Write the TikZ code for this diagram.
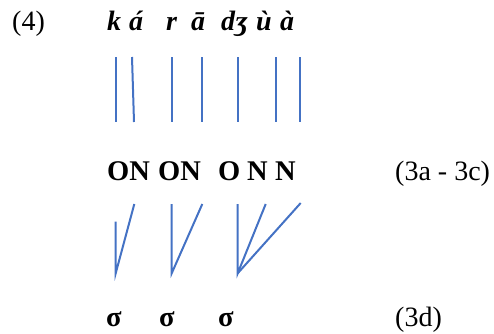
\documentclass[tikz,border=0pt]{standalone}
\usepackage{fontspec}
\setmainfont{Liberation Serif}
\definecolor{lnblue}{HTML}{4472C4}
\begin{document}
\begin{tikzpicture}[x=1pt,y=-1pt,
  txt/.style={inner sep=0pt,anchor=base west,font=\fontsize{28}{31}\selectfont},
  seg/.style={txt,font=\fontsize{28}{31}\selectfont\bfseries\itshape},
  bld/.style={txt,font=\fontsize{28.5}{31}\selectfont\bfseries},
  assoc/.style={draw=lnblue,line width=2pt}]
\useasboundingbox (0,0) rectangle (494,333);
% top row
\node[txt] (ex) at (12,30) {(4)};
\node[seg] (k) at (107,30) {k};
\node[seg] (a1) at (129,30) {á};
\node[seg] (r) at (166,30) {r};
\node[seg] (a2) at (191,30) {ā};
\node[seg] (dz) at (221,30) {dʒ};
\node[seg] (u) at (256,30) {ù};
\node[seg] (a3) at (280,30) {à};
% vertical association lines
\coordinate (t1) at (116,57);  \coordinate (b1) at (116,122);
\coordinate (t2) at (132,57);  \coordinate (b2) at (134,122);
\coordinate (t3) at (172,57);  \coordinate (b3) at (172,122);
\coordinate (t4) at (202,57);  \coordinate (b4) at (202,122);
\coordinate (t5) at (238,57);  \coordinate (b5) at (238,122);
\coordinate (t6) at (276,57);  \coordinate (b6) at (276,122);
\coordinate (t7) at (300,57);  \coordinate (b7) at (300,122);
\foreach \i in {1,...,7} \draw[assoc] (t\i) -- (b\i);
% ON row
\node[bld] (on1) at (107,180) {ON};
\node[bld] (on2) at (158,180) {ON};
\node[bld] (o3) at (218,180) {O};
\node[bld] (n3) at (247,180) {N};
\node[bld] (n4) at (275,180) {N};
\node[txt] (lab1) at (395,180) {(3a - 3c)};
% syllable lines
\coordinate (s1) at (115.7,273.3);
\coordinate (s2) at (171.7,273.3);
\coordinate (s3) at (237.7,273.3);
\coordinate (o1t) at (115.7,221.7);
\coordinate (n1t) at (134.3,204);
\coordinate (o2t) at (171.7,204);
\coordinate (n2t) at (202.3,204);
\coordinate (o3t) at (237.7,204);
\coordinate (n3t) at (265.7,204);
\coordinate (n4t) at (300.7,203);
\draw[assoc] (o1t) -- (s1) -- (n1t);
\draw[assoc] (o2t) -- (s2) -- (n2t);
\draw[assoc] (o3t) -- (s3) -- (n3t);
\draw[assoc] (s3) -- (n4t);
% sigma row
\node[bld] (sg1) at (106,326) {σ};
\node[bld] (sg2) at (159,326) {σ};
\node[bld] (sg3) at (218,326) {σ};
\node[txt] (lab2) at (395,326) {(3d)};
\end{tikzpicture}
\end{document}
